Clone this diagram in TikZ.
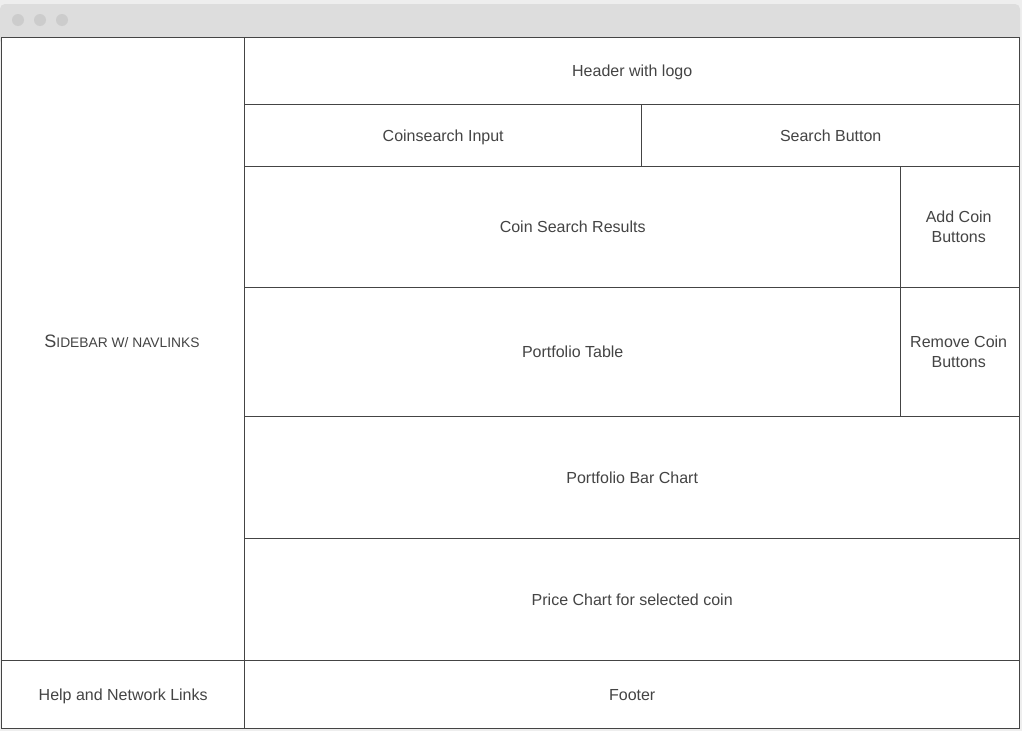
\documentclass[tikz,border=0pt]{standalone}
\usepackage{fontspec}
\setmainfont{Liberation Sans}
\begin{document}
\begin{tikzpicture}[x=1pt,y=-1pt,
  cell/.style={draw=linec, line width=1.4pt, fill=white, inner sep=0pt, anchor=north west},
  txt/.style={text=textc, font=\fontsize{16}{20}\selectfont, align=center, inner sep=0pt},
  txtone/.style={txt, text height=10.6pt, text depth=0pt}]
\definecolor{linec}{HTML}{444444}
\definecolor{textc}{HTML}{444444}
\definecolor{bgc}{HTML}{EEEEEE}
\definecolor{barc}{HTML}{DDDDDD}
\definecolor{dotc}{HTML}{CCCCCC}
\useasboundingbox (0,0) rectangle (1022,731);
\fill[bgc] (0,0) rectangle (1022,731);
\fill[barc, rounded corners=5pt] (0,4) rectangle (1020,45);
\fill[barc] (0,30) rectangle (1020,38);
\fill[dotc] (18,20) circle (6);
\fill[dotc] (40,20) circle (6);
\fill[dotc] (62,20) circle (6);
% cells
\node[cell, minimum width=243pt, minimum height=623pt] (sidebar) at (1,37) {};
\node[txt, text height=13pt, text depth=0pt] (sidebartext) at (122,341) {\fontsize{18}{20}\selectfont S{\fontsize{13.8}{16}\selectfont IDEBAR W/ NAVLINKS}};
\node[cell, minimum width=775pt, minimum height=67pt] (header) at (244,37) {};
\node[txtone] at (header.center) {Header with logo};
\node[cell, minimum width=397pt, minimum height=62pt] (input) at (244,104) {};
\node[txtone] at (input.center) {Coinsearch Input};
\node[cell, minimum width=378pt, minimum height=62pt] (search) at (641,104) {};
\node[txtone] at (search.center) {Search Button};
\node[cell, minimum width=656pt, minimum height=121pt] (results) at (244,166) {};
\node[txtone] at (results.center) {Coin Search Results};
\node[cell, minimum width=119pt, minimum height=121pt] (add) at (900,166) {};
\node[txt] at ([xshift=-1.5pt,yshift=0.5pt]add.center) {Add Coin\\Buttons};
\node[cell, minimum width=656pt, minimum height=129pt] (table) at (244,287) {};
\node[txtone] at (table.center) {Portfolio Table};
\node[cell, minimum width=119pt, minimum height=129pt] (remove) at (900,287) {};
\node[txt] at ([xshift=-1.5pt,yshift=0.5pt]remove.center) {Remove Coin\\Buttons};
\node[cell, minimum width=775pt, minimum height=122pt] (bar) at (244,416) {};
\node[txtone] at (bar.center) {Portfolio Bar Chart};
\node[cell, minimum width=775pt, minimum height=122pt] (price) at (244,538) {};
\node[txtone] at (price.center) {Price Chart for selected coin};
\node[cell, minimum width=243pt, minimum height=68pt] (help) at (1,660) {};
\node[txtone] at (help.center) {Help and Network Links};
\node[cell, minimum width=775pt, minimum height=68pt] (footer) at (244,660) {};
\node[txtone] at (footer.center) {Footer};
\end{tikzpicture}
\end{document}
